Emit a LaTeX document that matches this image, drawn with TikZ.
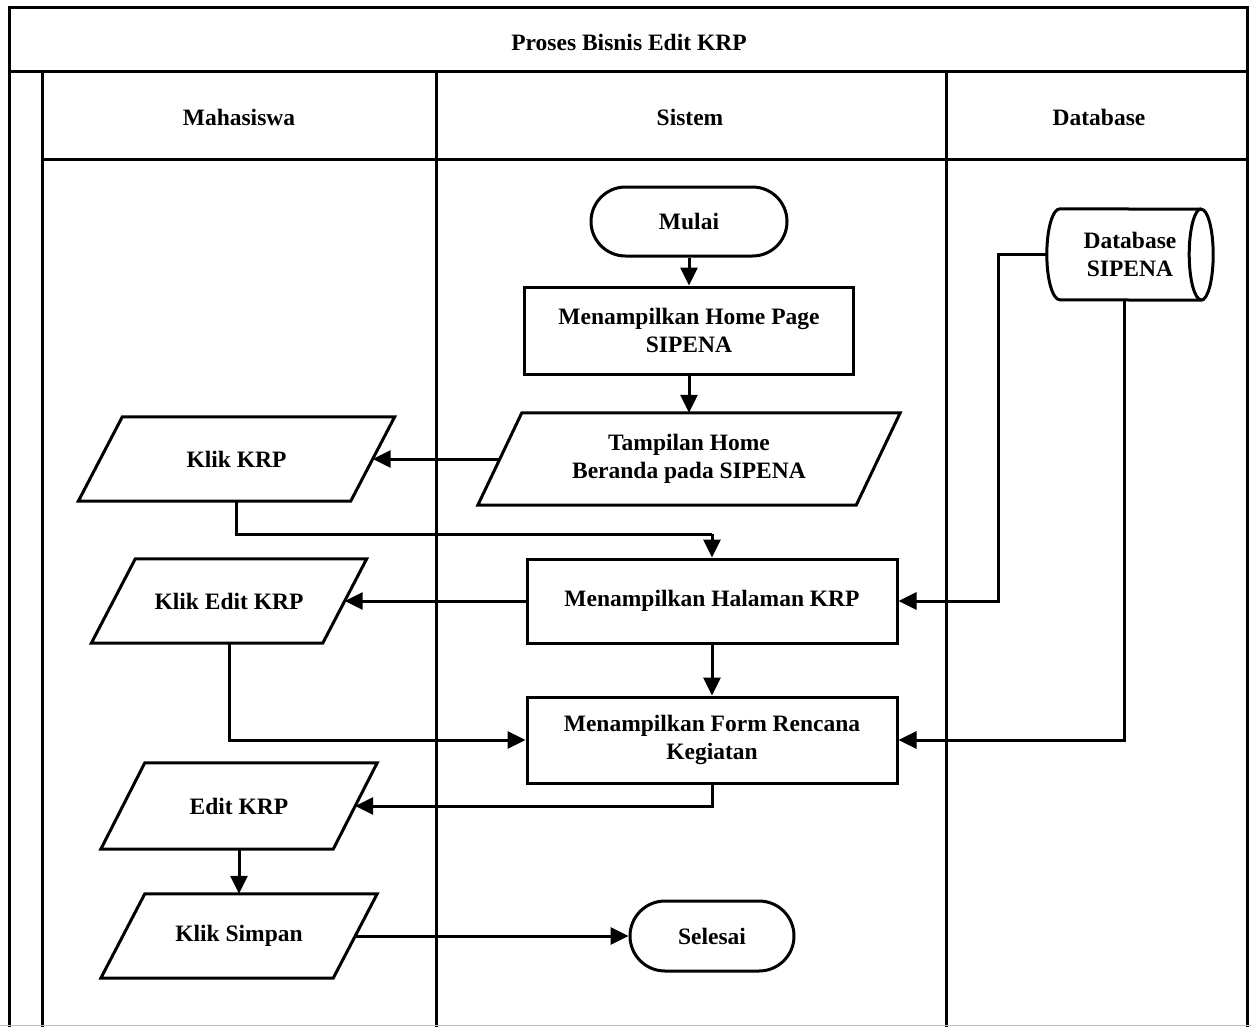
\documentclass[tikz,border=0pt]{standalone}
\usepackage{fontspec}
\setmainfont{Liberation Serif}
\usetikzlibrary{arrows.meta,shapes.misc,calc}
\begin{document}
\begin{tikzpicture}[x=1pt,y=-1pt,
  every node/.style={font=\fontsize{23.5}{28}\selectfont\bfseries, align=center, inner sep=0pt},
  frame/.style={line width=3pt, line cap=rect},
  shapeline/.style={line width=3pt, line join=miter},
  procbox/.style={draw, line width=3pt, rectangle},
  termbox/.style={draw, line width=3pt, rounded rectangle},
  parabox/.style={rectangle},
  arr/.style={line width=3pt, -{Triangle[length=18pt,width=17pt]}},
  conn/.style={line width=3pt}
]
\useasboundingbox (0,0) rectangle (1251,1026);
% frame and lanes
\draw[frame] (9,1026) -- (9,7) -- (1247,7) -- (1247,1026);
\draw[frame] (9,71) -- (1247,71);
\draw[frame] (42,71) -- (42,1026);
\draw[frame] (436,71) -- (436,1026);
\draw[frame] (946,71) -- (946,1026);
\draw[frame] (42,159) -- (1247,159);
\draw[gray!50, line width=1pt] (0,1025) -- (1251,1025);

% headers
\node (title) at (629,42) {Proses Bisnis Edit KRP};
\node (hmhs) at (239,117) {Mahasiswa};
\node (hsis) at (690,117) {Sistem};
\node (hdb) at (1099,117) {Database};

% nodes
\node[termbox, minimum width=196pt, minimum height=69pt] (mulai) at (689,221.5) {Mulai};
\node[procbox, minimum width=329pt, minimum height=87pt] (home) at (689,330.5) {Menampilkan Home Page\\SIPENA};
\node[parabox, minimum width=378pt, minimum height=92pt] (tampil) at (689,459) {Tampilan Home\\Beranda pada SIPENA};
\node[parabox, minimum width=272pt, minimum height=84pt] (klikkrp) at (236.5,459) {Klik KRP};
\node[procbox, minimum width=370pt, minimum height=84pt] (halaman) at (712,601) {Menampilkan Halaman KRP};
\node[parabox, minimum width=231pt, minimum height=84pt] (klikedit) at (229,601) {Klik Edit KRP};
\node[procbox, minimum width=370pt, minimum height=86pt] (form) at (712,740) {Menampilkan Form Rencana\\Kegiatan};
\node[parabox, minimum width=232pt, minimum height=86pt] (editkrp) at (239,806) {Edit KRP};
\node[parabox, minimum width=232pt, minimum height=84pt] (simpan) at (239,936) {Klik Simpan};
\node[termbox, minimum width=164pt, minimum height=70pt] (selesai) at (712,936) {Selesai};
\node[minimum width=166pt, minimum height=91pt] (db) at (1130,254.5) {Database\\SIPENA};

% parallelogram outlines
\foreach \n in {tampil,klikkrp,klikedit,editkrp,simpan}
  \draw[shapeline] ([xshift=-22pt]\n.south west) -- ([xshift=-22pt]\n.south east)
     -- ([xshift=22pt]\n.north east) -- ([xshift=22pt]\n.north west) -- cycle;

% cylinder outline
\draw[shapeline] ([xshift=13pt]db.north west)
   arc[start angle=90, end angle=270, x radius=13pt, y radius=45.5pt]
   -- ([xshift=-12pt]db.south east)
   arc[start angle=270, end angle=450, x radius=12pt, y radius=45.5pt]
   -- cycle;
\draw[shapeline] ([xshift=-12pt]db.north east)
   arc[start angle=90, end angle=270, x radius=12pt, y radius=45.5pt];

% connectors
\coordinate (b1) at (712,534);
\draw[arr] (mulai) -- (home);
\draw[arr] (home) -- (tampil);
\draw[arr] (tampil.west) -- (klikkrp.east);
\draw[conn] (klikkrp.south) |- (b1);
\draw[arr] (b1) -- (halaman.north);
\draw[arr] (halaman.west) -- (klikedit.east);
\draw[arr] (halaman) -- (form);
\draw[arr] (klikedit.south) |- (form.west);
\draw[arr] (form.south) |- (editkrp.east);
\draw[arr] (editkrp) -- (simpan);
\draw[arr] (simpan.east) -- (selesai.west);
\draw[arr] (db.west) -- ++(-48,0) |- (halaman.east);
\draw[arr] ([xshift=-6pt]db.south) |- (form.east);
\end{tikzpicture}
\end{document}
